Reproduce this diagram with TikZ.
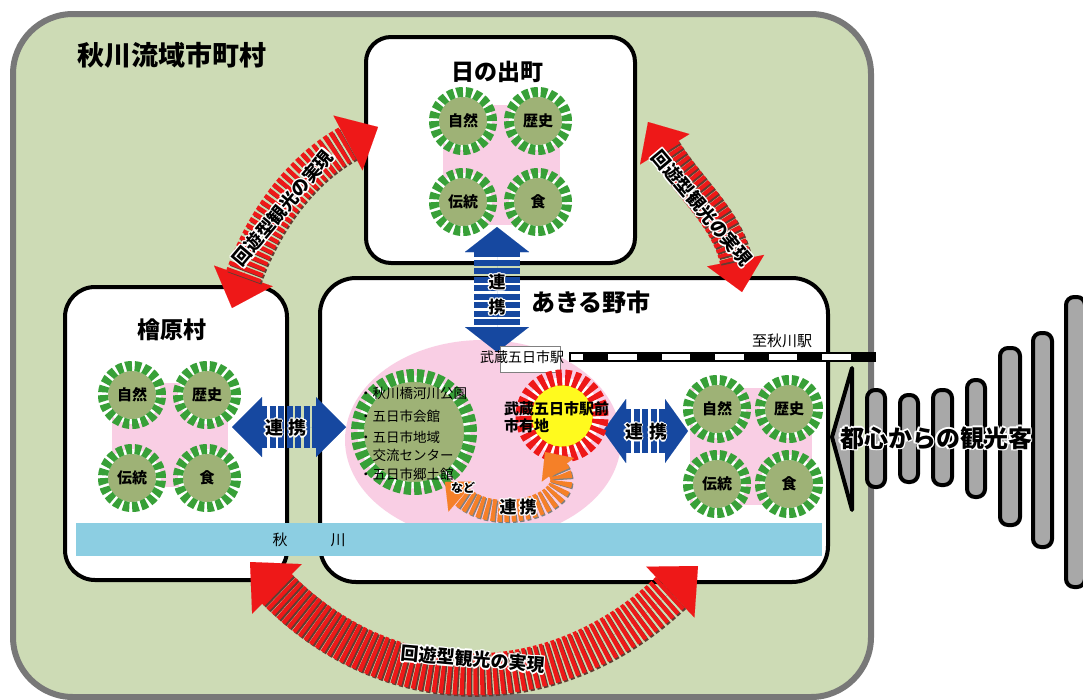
\documentclass[tikz,border=0pt]{standalone}
\usepackage{fontspec}
\setmainfont{Noto Sans CJK JP}
\usetikzlibrary{arrows.meta}
\definecolor{bgG}{RGB}{205,219,181}
\definecolor{frameG}{RGB}{120,120,120}
\definecolor{pinkC}{RGB}{249,206,228}
\definecolor{ringG}{RGB}{56,160,56}
\definecolor{oliveC}{RGB}{158,178,118}
\definecolor{riverC}{RGB}{140,206,226}
\definecolor{blueC}{RGB}{22,72,160}
\definecolor{redC}{RGB}{238,24,24}
\definecolor{shadowC}{RGB}{100,60,50}
\definecolor{orangeC}{RGB}{245,128,40}
\definecolor{sunY}{RGB}{255,250,30}
\definecolor{barG}{RGB}{168,168,168}
\newcommand{\halotxt}[3]{%
  \setbox0=\hbox{#3}%
  \hbox{\color{#1}%
    \rlap{\kern-#2\copy0}\rlap{\kern#2\copy0}%
    \rlap{\raise#2\copy0}\rlap{\lower#2\copy0}%
    \rlap{\kern-0.7\dimexpr#2\relax\raise0.7\dimexpr#2\relax\copy0}%
    \rlap{\kern0.7\dimexpr#2\relax\raise0.7\dimexpr#2\relax\copy0}%
    \rlap{\kern-0.7\dimexpr#2\relax\lower0.7\dimexpr#2\relax\copy0}%
    \rlap{\kern0.7\dimexpr#2\relax\lower0.7\dimexpr#2\relax\copy0}%
  }\box0}
\newcommand{\fs}[1]{\fontsize{#1}{#1}\selectfont}
\tikzset{
  region/.style={draw=black, line width=4pt, fill=white, rounded corners=#1},
  feat/.style={circle, minimum size=58pt, inner sep=0pt, fill=white, draw=ringG,
    line width=10pt, dash pattern=on 6.3pt off 2.81pt,
    path picture={\fill[oliveC] (path picture bounding box.center) circle[radius=24pt];},
    font=\bfseries\fs{15}, text=black},
  parkc/.style={circle, minimum size=113pt, inner sep=0pt, fill=white, draw=ringG,
    line width=13pt, dash pattern=on 7pt off 2.861pt,
    path picture={\fill[oliveC] (path picture bounding box.center) circle[radius=50pt];}},
  sunc/.style={circle, minimum size=77pt, inner sep=0pt, fill=white, draw=redC,
    line width=16pt, dash pattern=on 5.5pt off 3.14pt,
    path picture={\fill[sunY] (path picture bounding box.center) circle[radius=31pt];}},
  heading/.style={font=\bfseries\fs{#1}, text=black, inner sep=0pt},
  plain/.style={font=\fs{#1}, text=black, inner sep=0pt},
  parkline/.style={font=\fs{13.5}, text=black, inner sep=0pt, anchor=west},
  arctext/.style={font=\bfseries\fs{18}, text=black, inner sep=0pt},
  stripe/.style={dash pattern=on 4pt off 2.5pt},
  bstripe/.style={dash pattern=on 6pt off 2.5pt},
  bar/.style={draw=black, fill=barG, line width=4pt, rounded corners=8pt},
}
\begin{document}
\begin{tikzpicture}[x=1pt,y=-1pt]
\useasboundingbox (0,0) rectangle (1083,699);
\fill[white] (0,0) rectangle (1083,699);
% outer region
\draw[frameG, line width=6pt, fill=bgG, rounded corners=60pt] (13,14) rectangle (871,697);
\node[heading=27] (ttl) at (172,55) {秋川流域市町村};
% municipality boxes
\draw[region=25pt] (366,37) rectangle (635,263);
\draw[region=30pt] (65,287) rectangle (287,580);
\draw[region=36pt] (320,278) rectangle (828,582);
\node[heading=23] (hinodeT) at (497,72) {日の出町};
\node[heading=23] (hinoharaT) at (172,330) {檜原村};
\node[heading=24] (akiT) at (591,302) {あきる野市};
% pink backgrounds
\fill[pinkC] (443,105) rectangle (560,225);
\fill[pinkC] (112,383) rectangle (228,487);
\fill[pinkC] (483,440) ellipse [x radius=138, y radius=100];
\fill[pinkC] (690,388) rectangle (812,505);
% resource circles
\node[feat] (h1) at (463,121) {自然};
\node[feat] (h2) at (538,121) {歴史};
\node[feat] (h3) at (463,202) {伝統};
\node[feat] (h4) at (538,202) {食};
\node[feat] (m1) at (132,395) {自然};
\node[feat] (m2) at (207,395) {歴史};
\node[feat] (m3) at (132,478) {伝統};
\node[feat] (m4) at (207,478) {食};
\node[feat] (a1) at (717,409) {自然};
\node[feat] (a2) at (789,409) {歴史};
\node[feat] (a3) at (717,484) {伝統};
\node[feat] (a4) at (789,484) {食};
% park circle
\node[parkc] (park) at (414,432) {};
\node[parkline] (p1) at (359,393) {・秋川橋河川公園};
\node[parkline] (p2) at (359,416) {・五日市会館};
\node[parkline] (p3) at (359,437) {・五日市地域};
\node[parkline] (p4) at (359,455) {\phantom{・}交流センター};
\node[parkline] (p5) at (359,474) {・五日市郷土館};
% river
\fill[riverC] (76,523) rectangle (822,556);
\node[plain=15] (riv1) at (280,540) {秋};
\node[plain=15] (riv2) at (338,540) {川};
% railway
\draw[black, line width=1.2pt, fill=white] (570,353) rectangle (875,361);
\draw[black, line width=8pt, dash pattern=on 25pt off 28.5pt] (583,357) -- (875,357);
\node[plain=15] (toAki) at (782,341) {至秋川駅};
% blue arrows
\coordinate (bl1) at (232,427); \coordinate (bl2) at (346,427);
\draw[blueC, line width=0.01pt, {Triangle[length=30pt,width=60pt]}-{Triangle[length=30pt,width=60pt]}] (bl1) -- (bl2);
\draw[blueC, line width=42pt, bstripe, shorten <=29pt, shorten >=29pt] (bl1) -- (bl2);
\node[heading=18] (blT) at (286,428) {\halotxt{white}{1.3pt}{連\hspace{6pt}携}};
\coordinate (bv1) at (497,227); \coordinate (bv2) at (497,352);
\draw[blueC, line width=0.01pt, {Triangle[length=25pt,width=64pt]}-{Triangle[length=25pt,width=64pt]}] (bv1) -- (bv2);
\draw[blueC, line width=46pt, bstripe, shorten <=24pt, shorten >=24pt] (bv1) -- (bv2);
\node[heading=17] (bvT1) at (497,282) {\halotxt{white}{1.3pt}{連}};
\node[heading=17] (bvT2) at (497,307) {\halotxt{white}{1.3pt}{携}};
\coordinate (br1) at (603,431); \coordinate (br2) at (688,431);
\draw[blueC, line width=0.01pt, {Triangle[length=23pt,width=64pt]}-{Triangle[length=23pt,width=64pt]}] (br1) -- (br2);
\draw[blueC, line width=44pt, bstripe, shorten <=22pt, shorten >=22pt] (br1) -- (br2);
\node[heading=18] (brT) at (646,432) {\halotxt{white}{1.3pt}{連\hspace{6pt}携}};
% station label
\node[draw=gray, line width=0.8pt, fill=white, minimum width=60pt, minimum height=26pt, inner sep=0pt] (stbox) at (530,359) {};
\node[plain=14] (st) at (522,357) {武蔵五日市駅};
% sun (city-owned land)
\node[sunc] (sun) at (562,416) {};
\node[font=\bfseries\fs{15}, text=black, inner sep=0pt, align=left, anchor=north west] (sunT) at (504,401) {武蔵五日市駅前\\[2.5pt]市有地};
% orange arrow
\coordinate (o1) at (545,452); \coordinate (o2) at (445,482);
\draw[orangeC, line width=0.01pt, {Triangle[length=22pt,width=40pt]}-{Triangle[length=22pt,width=40pt]}] (o1) .. controls (580,500) and (500,530) .. (o2);
\begin{scope}[transform canvas={shift={(1.2pt,-1.2pt)}}]
\draw[gray, line width=22pt, stripe, shorten <=21pt, shorten >=21pt] (o1) .. controls (580,500) and (500,530) .. (o2);
\end{scope}
\draw[orangeC, line width=22pt, stripe, shorten <=21pt, shorten >=21pt] (o1) .. controls (580,500) and (500,530) .. (o2);
\node[heading=17] (oT) at (518,507) {\halotxt{white}{1.3pt}{連\hspace{3pt}携}};
\node[heading=12] (nado) at (463,488) {\halotxt{white}{1.1pt}{など}};
% red circulation arcs
\coordinate (r1s) at (232,308); \coordinate (r1e) at (378,127);
\coordinate (r2s) at (648,122); \coordinate (r2e) at (742,292);
\coordinate (r3s) at (250,562); \coordinate (r3e) at (698,566);
\draw[redC, line width=0.01pt, {Triangle[length=34pt,width=62pt]}-{Triangle[length=34pt,width=62pt]}] (r1s) .. controls (262,223) and (299,169) .. (r1e);
\draw[redC, line width=0.01pt, {Triangle[length=32pt,width=58pt]}-{Triangle[length=32pt,width=58pt]}] (r2s) .. controls (688,187) and (727,218) .. (r2e);
\draw[redC, line width=0.01pt, {Triangle[length=38pt,width=70pt]}-{Triangle[length=38pt,width=70pt]}] (r3s) .. controls (391,703) and (554,702) .. (r3e);
\begin{scope}[transform canvas={shift={(1.5pt,-1.5pt)}}]
\draw[shadowC, line width=36pt, stripe, shorten <=33pt, shorten >=33pt] (r1s) .. controls (262,223) and (299,169) .. (r1e);
\draw[shadowC, line width=32pt, stripe, shorten <=31pt, shorten >=31pt] (r2s) .. controls (688,187) and (727,218) .. (r2e);
\draw[shadowC, line width=42pt, stripe, shorten <=37pt, shorten >=37pt] (r3s) .. controls (391,703) and (554,702) .. (r3e);
\end{scope}
\draw[redC, line width=36pt, stripe, shorten <=33pt, shorten >=33pt] (r1s) .. controls (262,223) and (299,169) .. (r1e);
\draw[redC, line width=32pt, stripe, shorten <=31pt, shorten >=31pt] (r2s) .. controls (688,187) and (727,218) .. (r2e);
\draw[redC, line width=42pt, stripe, shorten <=37pt, shorten >=37pt] (r3s) .. controls (391,703) and (554,702) .. (r3e);
\node[arctext, rotate=50] (rt1) at (283,208) {\halotxt{white}{1.5pt}{回遊型観光の実現}};
\node[arctext, rotate=-50] (rt2) at (702,208) {\halotxt{white}{1.5pt}{回遊型観光の実現}};
\node[arctext, rotate=-5] (rt3) at (473,659) {\halotxt{white}{1.5pt}{回遊型観光の実現}};
% visitors from central Tokyo
\draw[draw=black, fill=barG, line width=4pt, line join=round] (832,437) -- (852,368) -- (852,510) -- cycle;
\draw[bar] (867,390) rectangle (885,487);
\draw[bar] (900,395) rectangle (918,482);
\draw[bar] (933,390) rectangle (952,485);
\draw[bar] (967,380) rectangle (985,497);
\draw[bar] (1000,348) rectangle (1020,525);
\draw[bar] (1033,333) rectangle (1052,547);
\draw[bar] (1066,297) rectangle (1085,587);
\node[heading=24] (visT) at (936,438) {\halotxt{white}{1.6pt}{都心からの観光客}};
\end{tikzpicture}
\end{document}
